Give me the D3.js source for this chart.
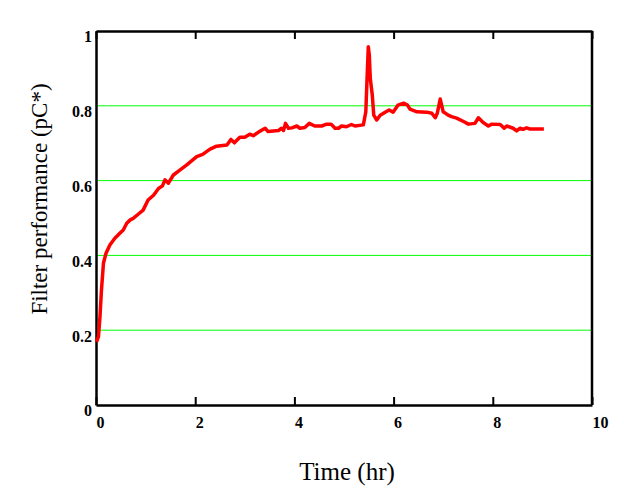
<!DOCTYPE html>
<html>
<head>
<meta charset="utf-8">
<script src="https://cdn.jsdelivr.net/npm/d3@7.9.0/dist/d3.min.js"></script>
<style>
  body { margin: 0; background: #fff; }
  .tick text { font-family: "Liberation Serif", serif; font-weight: bold; font-size: 16px; fill: #000; }
  .title { font-family: "Liberation Serif", serif; fill: #000; }
</style>
</head>
<body>
<svg width="624" height="497"></svg>
<script>
// time (hr) and filter performance
const times = [0.01, 0.05, 0.08, 0.11, 0.15, 0.20, 0.28, 0.38, 0.48, 0.55, 0.62, 0.69, 0.75, 0.85, 0.95,
  1.05, 1.16, 1.26, 1.34, 1.39, 1.46, 1.56, 1.69, 1.83, 2.03, 2.15, 2.30, 2.43, 2.64, 2.72, 2.79, 2.90,
  3.00, 3.10, 3.17, 3.27, 3.41, 3.47, 3.68, 3.74, 3.78, 3.82, 3.88, 3.95, 4.05, 4.11, 4.21, 4.30, 4.41,
  4.55, 4.65, 4.74, 4.82, 4.89, 4.95, 5.05, 5.15, 5.22, 5.39, 5.44, 5.46, 5.49, 5.51, 5.53, 5.57, 5.60,
  5.66, 5.73, 5.83, 5.91, 5.99, 6.09, 6.20, 6.28, 6.33, 6.47, 6.67, 6.77, 6.84, 6.88, 6.94, 7.00, 7.10,
  7.17, 7.27, 7.41, 7.51, 7.64, 7.71, 7.81, 7.91, 7.98, 8.15, 8.23, 8.28, 8.41, 8.48, 8.55, 8.61, 8.68,
  8.75, 9.03];
const perf = [0.169, 0.183, 0.236, 0.307, 0.379, 0.405, 0.428, 0.446, 0.459, 0.468, 0.486, 0.495, 0.499, 0.510, 0.521,
  0.548, 0.561, 0.579, 0.586, 0.602, 0.593, 0.615, 0.628, 0.642, 0.664, 0.670, 0.684, 0.692, 0.695, 0.710, 0.701, 0.716,
  0.716, 0.724, 0.720, 0.729, 0.740, 0.731, 0.734, 0.740, 0.734, 0.753, 0.740, 0.741, 0.746, 0.740, 0.742, 0.753, 0.746,
  0.746, 0.751, 0.751, 0.740, 0.740, 0.746, 0.744, 0.750, 0.746, 0.749, 0.784, 0.856, 0.958, 0.936, 0.873, 0.829, 0.775,
  0.762, 0.775, 0.783, 0.789, 0.783, 0.802, 0.807, 0.802, 0.791, 0.784, 0.783, 0.780, 0.768, 0.780, 0.818, 0.784, 0.775,
  0.771, 0.767, 0.758, 0.751, 0.753, 0.768, 0.755, 0.746, 0.751, 0.750, 0.740, 0.746, 0.740, 0.733, 0.740, 0.737, 0.741,
  0.738, 0.738];

const xTicks = [0, 2, 4, 6, 8, 10];
const yTicks = [0, 0.2, 0.4, 0.6, 0.8, 1];
const gridVals = [0.2, 0.4, 0.6, 0.8];

const margin = { top: 31, right: 32, bottom: 92, left: 96 };
const W = 624, H = 497;
const w = W - margin.left - margin.right;
const h = H - margin.top - margin.bottom;

const svg = d3.select("svg");
const g = svg.append("g").attr("transform", `translate(${margin.left},${margin.top})`);

const x = d3.scaleLinear().domain([0, 10]).range([0, w]);
const y = d3.scaleLinear().domain([0, 1]).range([h, 0]);

// green gridlines
g.selectAll(".grid")
  .data(gridVals)
  .enter().append("line")
  .attr("x1", 0).attr("x2", w)
  .attr("y1", d => y(d)).attr("y2", d => y(d))
  .attr("stroke", "#00ff00")
  .attr("stroke-width", 1);

// bottom axis, ticks pointing in
const xAxis = g.append("g")
  .attr("transform", `translate(0,${h})`)
  .call(d3.axisBottom(x).tickValues(xTicks).tickSizeInner(-8).tickSizeOuter(0).tickPadding(12));
xAxis.selectAll(".tick text").attr("text-anchor", "start").attr("dx", 0);
xAxis.selectAll(".tick line").attr("stroke-width", 2);
xAxis.select(".domain").attr("stroke-width", 2.5);

// top axis, no labels
const topAxis = g.append("g")
  .call(d3.axisTop(x).tickValues(xTicks).tickSizeInner(-8).tickSizeOuter(0).tickFormat(""));
topAxis.selectAll(".tick line").attr("stroke-width", 2);
topAxis.select(".domain").attr("stroke-width", 2.5);

// left axis: labels only, hanging below the value
const yAxis = g.append("g")
  .call(d3.axisLeft(y).tickValues(yTicks).tickSize(0).tickPadding(4).tickFormat(d => d === 0 || d === 1 ? d : d.toFixed(1)));
yAxis.selectAll(".tick text").attr("dy", "0.68em");
yAxis.select(".domain").attr("stroke-width", 2.5);

// right border
g.append("line")
  .attr("x1", w).attr("x2", w).attr("y1", 0).attr("y2", h)
  .attr("stroke", "#000").attr("stroke-width", 2.5);

// data line
const pts = times.map((t, i) => [t, perf[i]]);
g.append("path")
  .datum(pts)
  .attr("fill", "none")
  .attr("stroke", "#ff0000")
  .attr("stroke-width", 3.5)
  .attr("stroke-linejoin", "round")
  .attr("d", d3.line().x(d => x(d[0])).y(d => y(d[1])));

// axis titles
svg.append("text")
  .attr("class", "title")
  .attr("font-size", 25)
  .attr("x", 347)
  .attr("y", 480)
  .attr("text-anchor", "middle")
  .text("Time (hr)");

svg.append("text")
  .attr("class", "title")
  .attr("font-size", 23)
  .attr("transform", "translate(47,199) rotate(-90)")
  .attr("text-anchor", "middle")
  .text("Filter performance (pC*)");
</script>
</body>
</html>
